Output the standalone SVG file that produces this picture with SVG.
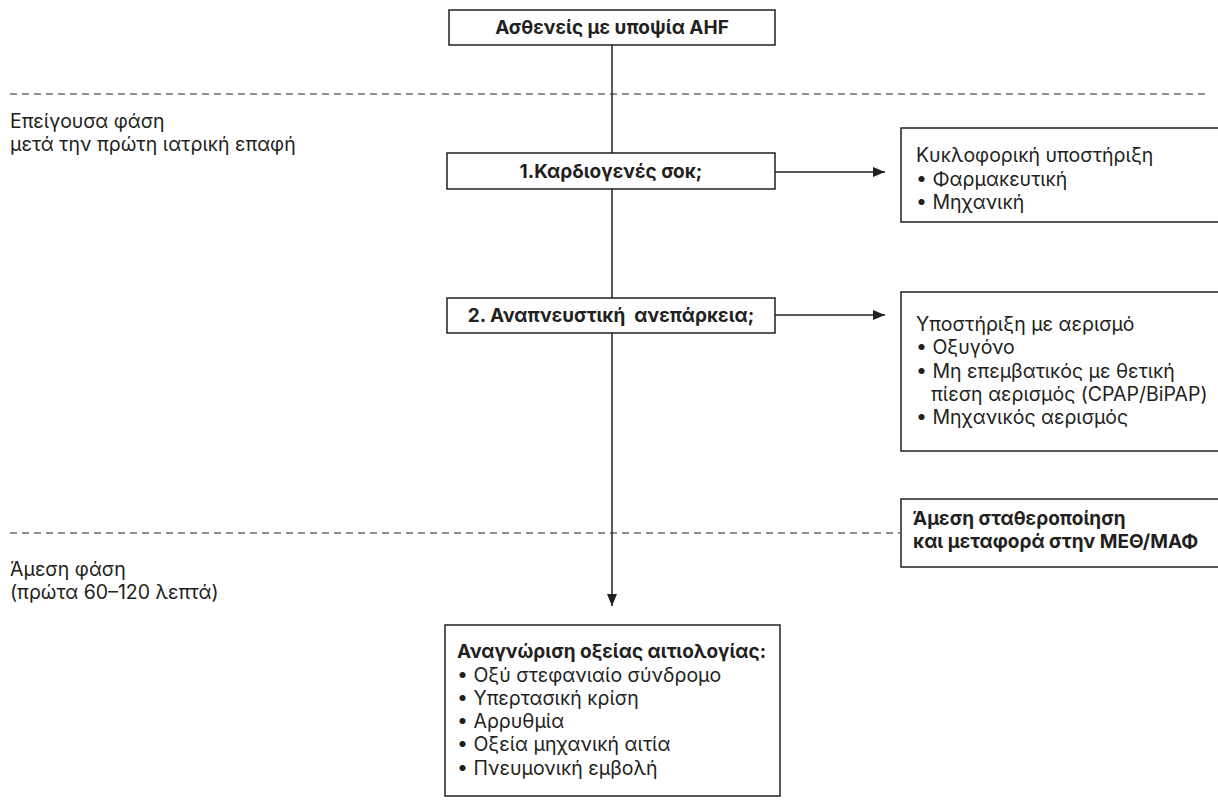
<svg xmlns="http://www.w3.org/2000/svg" width="1218" height="805" viewBox="0 0 1218 805">
<style>
text{font-family:Inter,"Noto Sans","DejaVu Sans",sans-serif;font-size:19.5px;fill:#231f20;white-space:pre}
.b{font-weight:bold;font-size:19px}
.box{fill:#fff;stroke:#231f20;stroke-width:1.5}
.ln{stroke:#231f20;stroke-width:1.5;fill:none}
.dash{stroke:#231f20;stroke-width:1;stroke-dasharray:7 5;fill:none}
</style>
<defs>
<marker id="ah" viewBox="0 0 12 10" refX="12" refY="5" markerWidth="12" markerHeight="10" markerUnits="userSpaceOnUse" orient="auto">
<path d="M0,0 L12,5 L0,10 Z" fill="#231f20"/>
</marker>
</defs>
<rect width="1218" height="805" fill="#fff"/>
<g id="phases">
<line class="dash" x1="10" y1="94" x2="1207" y2="94"/>
<line class="dash" x1="10" y1="533" x2="900" y2="533"/>
<text x="10" y="128">Επείγουσα φάση</text>
<text x="10" y="151">μετά την πρώτη ιατρική επαφή</text>
<text x="10" y="576">Άμεση φάση</text>
<text x="10" y="599">(πρώτα 60–120 λεπτά)</text>
</g>
<g id="connectors">
<line class="ln" x1="612" y1="45" x2="612" y2="153"/>
<line class="ln" x1="612" y1="189" x2="612" y2="298"/>
<line class="ln" x1="612" y1="333" x2="612" y2="606" marker-end="url(#ah)"/>
<line class="ln" x1="775" y1="172" x2="885" y2="172" marker-end="url(#ah)"/>
<line class="ln" x1="775" y1="315" x2="885" y2="315" marker-end="url(#ah)"/>
</g>
<g id="start">
<rect class="box" x="449" y="10" width="326" height="35"/>
<text class="b" x="612" y="34" text-anchor="middle">Ασθενείς με υποψία AHF</text>
</g>
<g id="shock">
<rect class="box" x="447" y="153" width="328" height="36"/>
<text class="b" x="611" y="178" text-anchor="middle">1.Καρδιογενές σοκ;</text>
</g>
<g id="respiratory">
<rect class="box" x="447" y="298" width="328" height="35"/>
<text class="b" x="611" y="322" text-anchor="middle">2. Αναπνευστική  ανεπάρκεια;</text>
</g>
<g id="circulatory">
<rect class="box" x="901" y="128" width="330" height="94"/>
<text x="916" y="162">Κυκλοφορική υποστήριξη</text>
<text x="916" y="186">• Φαρμακευτική</text>
<text x="916" y="209">• Μηχανική</text>
</g>
<g id="ventilation">
<rect class="box" x="901" y="292" width="330" height="159"/>
<text x="916" y="331">Υποστήριξη με αερισμό</text>
<text x="916" y="354">• Οξυγόνο</text>
<text x="916" y="378">• Μη επεμβατικός με θετική</text>
<text x="931" y="401">πίεση αερισμός (CPAP/BiPAP)</text>
<text x="916" y="424">• Μηχανικός αερισμός</text>
</g>
<g id="stabilisation">
<rect class="box" x="901" y="499" width="330" height="68"/>
<text class="b" x="913" y="525">Άμεση σταθεροποίηση</text>
<text class="b" x="913" y="548">και μεταφορά στην ΜΕΘ/ΜΑΦ</text>
</g>
<g id="aetiology">
<rect class="box" x="445" y="625" width="335" height="171"/>
<text class="b" x="457" y="658">Αναγνώριση οξείας αιτιολογίας:</text>
<text x="457" y="682">• Οξύ στεφανιαίο σύνδρομο</text>
<text x="457" y="705">• Υπερτασική κρίση</text>
<text x="457" y="728">• Αρρυθμία</text>
<text x="457" y="751">• Οξεία μηχανική αιτία</text>
<text x="457" y="775">• Πνευμονική εμβολή</text>
</g>
</svg>
